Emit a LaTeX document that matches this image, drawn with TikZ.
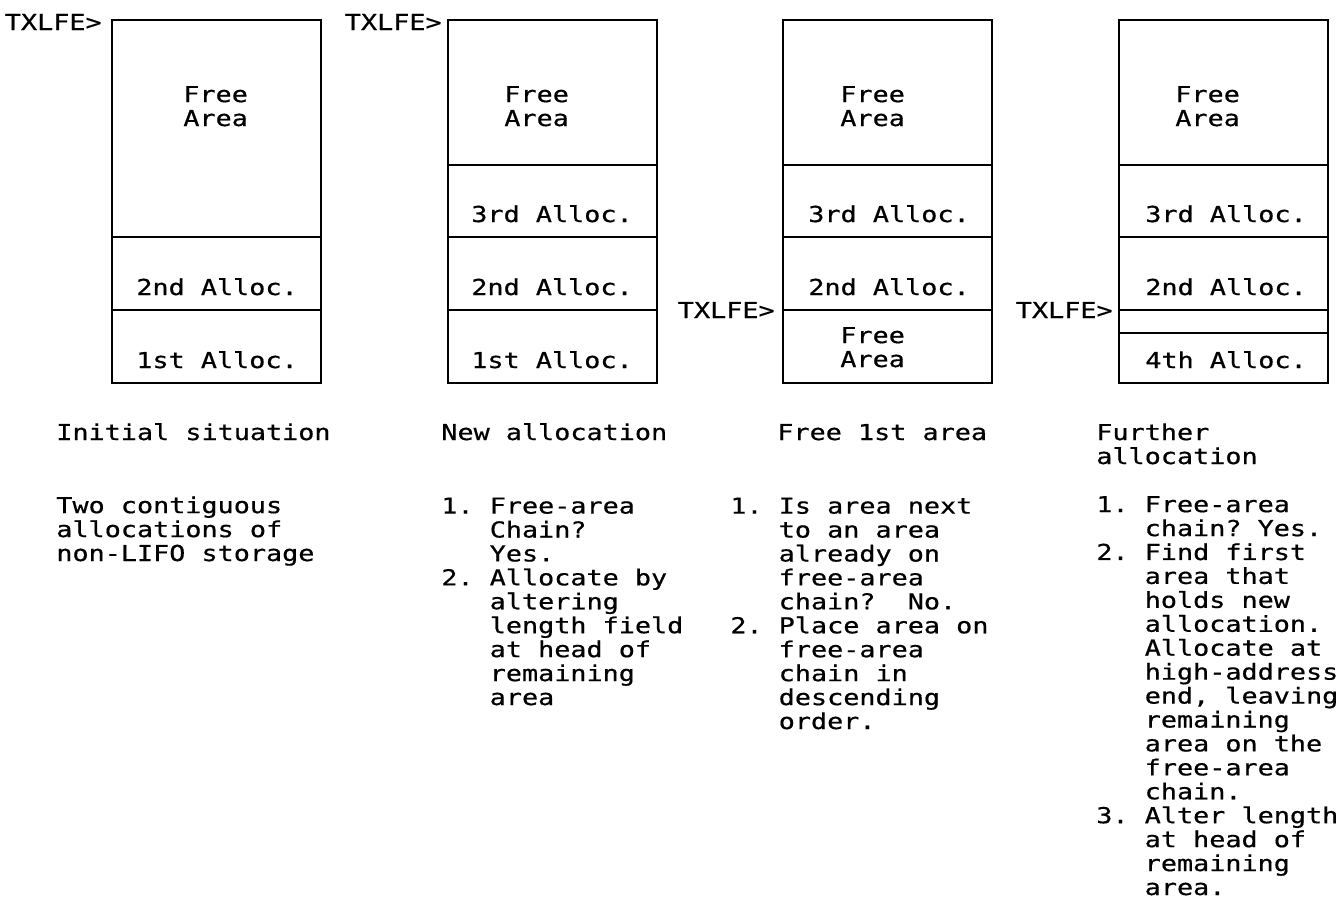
\documentclass[tikz,border=0pt]{standalone}
\usepackage{fontspec}
\setmonofont[FakeStretch=1.22, FakeBold=0.6]{DejaVu Sans Mono}
\newcommand{\lind}{\hphantom{1.\ }}
\tikzset{
  stack/.style={line width=1.1pt},
  lbl/.style={anchor=base west, inner sep=0pt, align=left},
  ptr/.style={anchor=base east, inner sep=0pt}
}
\begin{document}
\begin{tikzpicture}[x=0.02cm, y=-0.02cm, font=\ttfamily\fontsize{12.5}{13.62}\selectfont]
    \useasboundingbox (0,0) rectangle (1340,900);
    % storage stacks
    \draw[stack] (112,20) rectangle (321,383);
    \draw[stack] (112,237) -- (321,237) (112,310) -- (321,310);
    \draw[stack] (448,20) rectangle (657,383);
    \draw[stack] (448,165) -- (657,165) (448,237) -- (657,237) (448,310) -- (657,310);
    \draw[stack] (783,20) rectangle (992,383);
    \draw[stack] (783,165) -- (992,165) (783,237) -- (992,237) (783,310) -- (992,310);
    \draw[stack] (1119,20) rectangle (1328,383);
    \draw[stack] (1119,165) -- (1328,165) (1119,237) -- (1328,237)
      (1119,310) -- (1328,310) (1119,333) -- (1328,333);
    % pointers
    \node[ptr] (p1) at (102,30) {TXLFE>};
    \node[ptr] (p2) at (442,30) {TXLFE>};
    \node[ptr] (p3) at (775,318) {TXLFE>};
    \node[ptr] (p4) at (1113,318) {TXLFE>};
    % stack contents (base = last line)
    \node[lbl] (f1) at (183,126) {Free\\Area};
    \node[lbl] (a12) at (136,295) {2nd Alloc.};
    \node[lbl] (a11) at (136,368) {1st Alloc.};
    \node[lbl] (f2) at (504,126) {Free\\Area};
    \node[lbl] (a23) at (471,222) {3rd Alloc.};
    \node[lbl] (a22) at (471,295) {2nd Alloc.};
    \node[lbl] (a21) at (471,368) {1st Alloc.};
    \node[lbl] (f3) at (840,126) {Free\\Area};
    \node[lbl] (a33) at (808,222) {3rd Alloc.};
    \node[lbl] (a32) at (808,295) {2nd Alloc.};
    \node[lbl] (g3) at (840,367) {Free\\Area};
    \node[lbl] (f4) at (1175,126) {Free\\Area};
    \node[lbl] (a43) at (1145,222) {3rd Alloc.};
    \node[lbl] (a42) at (1145,295) {2nd Alloc.};
    \node[lbl] (a44) at (1145,368) {4th Alloc.};
    % captions
    \node[lbl] (c1) at (56,440) {Initial situation};
    \node[lbl] (c2) at (441,440) {New allocation};
    \node[lbl] (c3) at (777,440) {Free 1st area};
    \node[lbl] (c4) at (1096,464) {Further\\allocation};
    % notes
    \node[lbl] (n1) at (56,561) {Two contiguous\\allocations of\\non-LIFO storage};
    \node[lbl] (n2) at (441,705) {1. Free-area\\\lind Chain?\\\lind Yes.\\
      2. Allocate by\\\lind altering\\\lind length field\\\lind at head of\\
      \lind remaining\\\lind area};
    \node[lbl] (n3) at (730,729) {1. Is area next\\\lind to an area\\\lind already on\\
      \lind free-area\\\lind chain?\ \ No.\\2. Place area on\\\lind free-area\\
      \lind chain in\\\lind descending\\\lind order.};
    \node[lbl] (n4) at (1096,895) {1. Free-area\\\lind chain? Yes.\\2. Find first\\
      \lind area that\\\lind holds new\\\lind allocation.\\\lind Allocate at\\
      \lind high-address\\\lind end, leaving\\\lind remaining\\\lind area on the\\
      \lind free-area\\\lind chain.\\3. Alter length\\\lind at head of\\
      \lind remaining\\\lind area.};
\end{tikzpicture}
\end{document}
